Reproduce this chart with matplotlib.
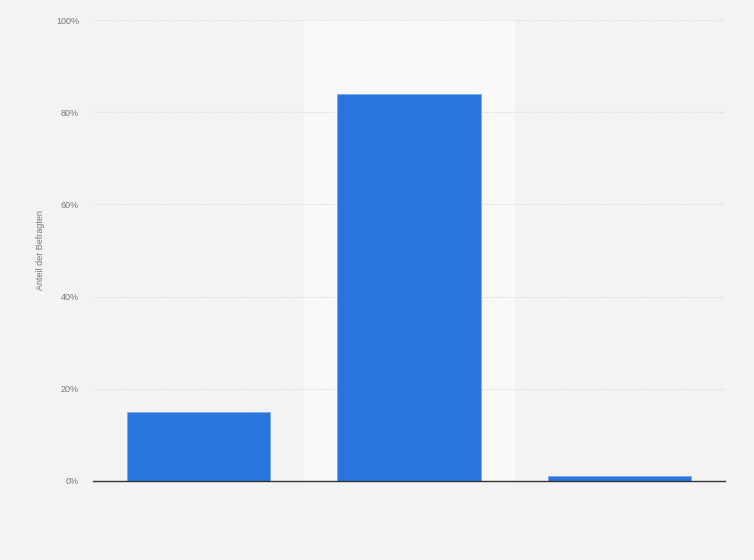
import matplotlib.pyplot as plt
import numpy as np
from matplotlib.ticker import FuncFormatter

plt.rcParams['font.family'] = ['Liberation Sans', 'DejaVu Sans']

categories = ['', '', '']
values = [15, 84, 1]
highlight = 1  # hovered column in the original
yticks = [0, 20, 40, 60, 80, 100]

bg = '#f3f3f3'
bar_color = '#2876dd'

fig = plt.figure(figsize=(7.54, 5.6), dpi=100, facecolor=bg)
ax = fig.add_axes([93 / 754, 79 / 560, 632 / 754, 461 / 560])
ax.set_facecolor(bg)

x = np.arange(len(categories))
ax.axvspan(highlight - 0.5, highlight + 0.5, ymin=0, ymax=1, color='#f9f9f9', zorder=0)
ax.bar(x, values, width=0.68, color=bar_color, edgecolor='#7fa9ec', linewidth=0.6, zorder=3)

ax.set_xlim(-0.5, len(categories) - 0.5)
ax.set_ylim(0, 100)
ax.set_yticks(yticks)
ax.yaxis.set_major_formatter(FuncFormatter(lambda v, p: f'{v:.0f}%'))
ax.set_xticks(x)
ax.set_xticklabels(categories)
ax.tick_params(axis='y', length=0, labelsize=6.5, labelcolor='#777777', pad=10)
ax.tick_params(axis='x', length=0)

ax.grid(axis='y', color='#dcdcdc', linestyle=(0, (1, 1)), linewidth=0.8, zorder=1)
for s in ['top', 'right', 'left']:
    ax.spines[s].set_visible(False)
ax.spines['bottom'].set_color('#333333')
ax.spines['bottom'].set_linewidth(1.0)
ax.spines['bottom'].set_zorder(4)

ax.set_ylabel('Anteil der Befragten', fontsize=6.5, color='#777777')
ax.yaxis.set_label_coords(-48 / 632, 0.5)

fig.savefig('out.png', dpi=100, facecolor=bg)
